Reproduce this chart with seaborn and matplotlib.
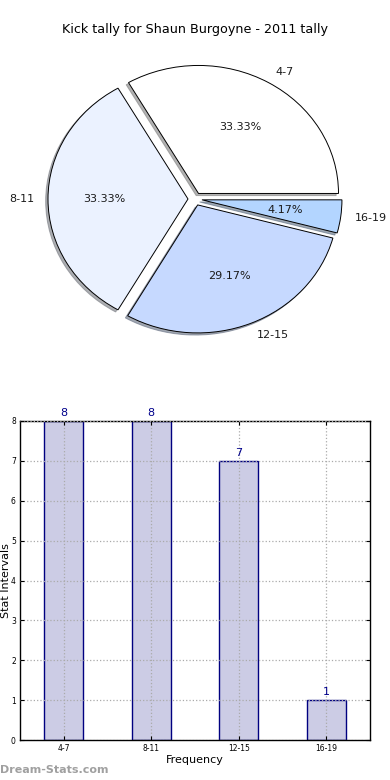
import matplotlib
matplotlib.use("Agg")
import matplotlib.pyplot as plt
import seaborn as sns
import pandas as pd

# kick tally per stat interval
intervals = ["4-7", "8-11", "12-15", "16-19"]
kicks = [8, 8, 7, 1]
slice_colors = ["#FFFFFF", "#EBF2FF", "#C6D9FF", "#B3D5FF"]

title = "Kick tally for Shaun Burgoyne - 2011 tally"
watermark = "Dream-Stats.com"

fig = plt.figure(figsize=(3.9, 7.8), dpi=100)

# top: pie chart (slightly squashed, like the original)
ax1 = fig.add_axes([20 / 390, 1 - 359 / 780, 350 / 390, 320 / 780])
ax1.pie(kicks, labels=intervals, colors=slice_colors,
		explode=[0.05] * len(kicks),
		shadow=dict(ox=-0.012, oy=-0.012, shade=0.5, alpha=0.6),
		autopct="%.2f%%",
		wedgeprops=dict(edgecolor="black", linewidth=0.7),
		textprops=dict(fontsize=8, color="#1a1a1a"))
ax1.set_aspect("auto")
ax1.set_xlim(-1.25, 1.25)
ax1.set_ylim(-1.25, 1.25)

fig.text(0.5, 1 - 30 / 780, title, ha="center", va="center", fontsize=9.2)

# bottom: bar chart
df = pd.DataFrame({"interval": intervals, "count": kicks})
ax2 = fig.add_axes([20 / 390, 40 / 780, 350 / 390, 319 / 780])
sns.barplot(data=df, x="interval", y="count", ax=ax2, width=0.45,
			color="#CCCCE5", edgecolor="navy", linewidth=1, saturation=1)
ax2.bar_label(ax2.containers[0], color="darkblue", fontsize=8, padding=2)

ax2.set_ylim(0, 8)
ax2.set_xlim(-0.5, len(intervals) - 0.5)
ax2.grid(True, linestyle=":", color="#aaaaaa", linewidth=0.9)
ax2.set_axisbelow(False)
ax2.tick_params(direction="in", top=True, right=True, labelsize=5.5,
				length=3, pad=3)
for s in ax2.spines.values():
	s.set_color("black")
	s.set_linewidth(1)
ax2.set_xlabel("Frequency", fontsize=8, labelpad=1)
ax2.set_ylabel("Stat Intervals", fontsize=8, labelpad=0)

fig.text(0.0, 10 / 780, watermark, ha="left", va="center",
		 fontsize=8, color="#a0a0a0", weight="bold")

plt.savefig("out.png", dpi=100)
